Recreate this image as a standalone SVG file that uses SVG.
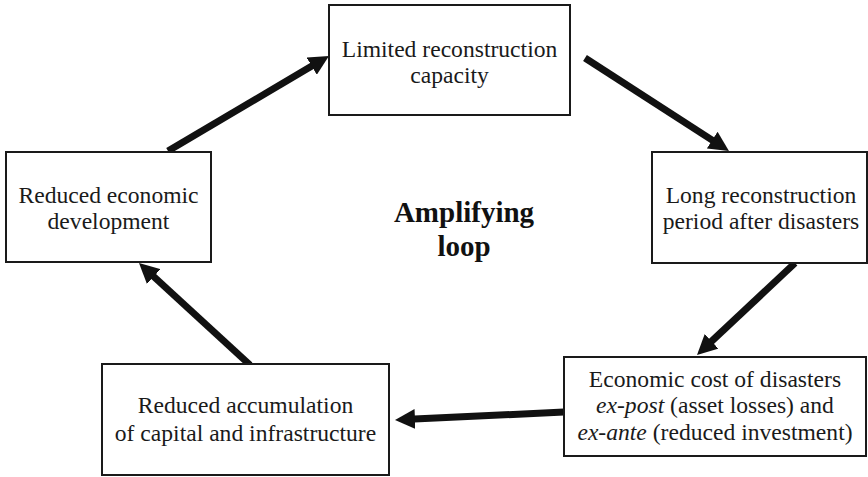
<svg xmlns="http://www.w3.org/2000/svg" width="868" height="477" viewBox="0 0 868 477">
  <style>
    .box { fill: #ffffff; stroke: #1a1a1a; stroke-width: 2; }
    .lbl { font-family: "Liberation Serif", "Times New Roman", Times, serif; font-size: 23.6px; fill: #1a1a1a; text-anchor: middle; }
    .title { font-family: "Liberation Serif", "Times New Roman", Times, serif; font-size: 29px; font-weight: bold; fill: #111111; text-anchor: middle; }
    .arrow { stroke: #111111; stroke-width: 7; fill: none; marker-end: url(#head); }
  </style>
  <defs>
    <marker id="head" viewBox="0 0 20 20" markerUnits="userSpaceOnUse" markerWidth="20" markerHeight="20" refX="6" refY="10" orient="auto">
      <path d="M0,0 L20,10 L0,20 z" fill="#111111"/>
    </marker>
  </defs>

  <rect width="868" height="477" fill="#ffffff"/>

  <!-- feedback arrows, clockwise -->
  <g id="connectors">
    <line class="arrow" x1="168" y1="151" x2="316.9" y2="63.1"/>
    <line class="arrow" x1="585" y1="58" x2="717.2" y2="143.4"/>
    <line class="arrow" x1="795" y1="263" x2="707.2" y2="345.4"/>
    <line class="arrow" x1="564" y1="412" x2="409" y2="419.3"/>
    <line class="arrow" x1="250" y1="365" x2="149.3" y2="272.5"/>
  </g>

  <g id="limited-capacity">
    <rect class="box" x="329" y="5" width="241" height="110"/>
    <text class="lbl" x="449.5" y="57">Limited reconstruction</text>
    <text class="lbl" x="449.5" y="83">capacity</text>
  </g>

  <g id="long-reconstruction">
    <rect class="box" x="652" y="152" width="215" height="111"/>
    <text class="lbl" x="761" y="203">Long reconstruction</text>
    <text class="lbl" x="761" y="229">period after disasters</text>
  </g>

  <g id="economic-cost">
    <rect class="box" x="564" y="357" width="302" height="99"/>
    <text class="lbl" x="715" y="387">Economic cost of disasters</text>
    <text class="lbl" x="715" y="413"><tspan font-style="italic">ex-post</tspan> (asset losses) and</text>
    <text class="lbl" x="715" y="440"><tspan font-style="italic">ex-ante</tspan> (reduced investment)</text>
  </g>

  <g id="reduced-accumulation">
    <rect class="box" x="102" y="364" width="287" height="111"/>
    <text class="lbl" x="245.5" y="413">Reduced accumulation</text>
    <text class="lbl" x="245.5" y="441">of capital and infrastructure</text>
  </g>

  <g id="reduced-development">
    <rect class="box" x="6" y="152" width="205" height="110"/>
    <text class="lbl" x="108.5" y="203">Reduced economic</text>
    <text class="lbl" x="108.5" y="229">development</text>
  </g>

  <g id="loop-label">
    <text class="title" x="464" y="222">Amplifying</text>
    <text class="title" x="464" y="256">loop</text>
  </g>
</svg>
